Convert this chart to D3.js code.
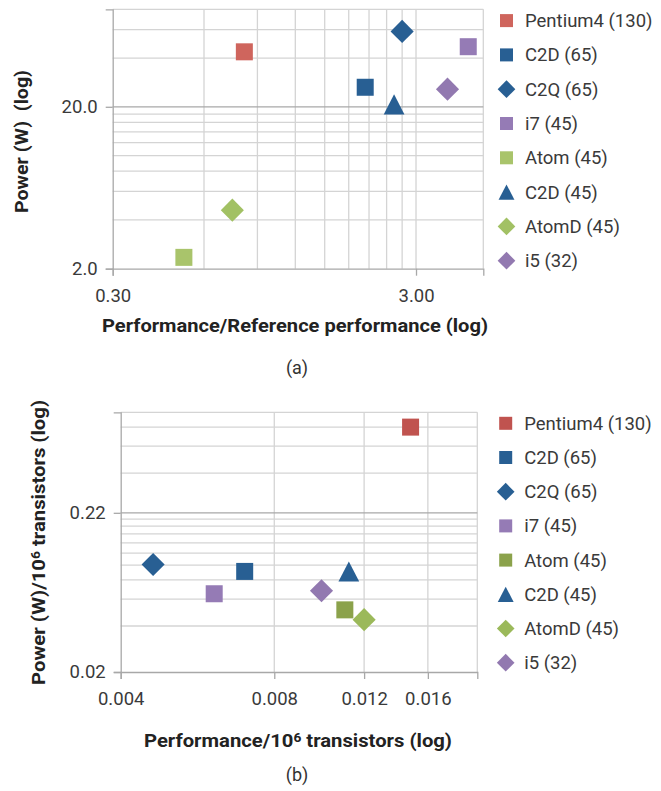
<!DOCTYPE html>
<html>
<head>
<meta charset="utf-8">
<script src="https://cdn.jsdelivr.net/npm/d3@7"></script>
<style>
  body { margin: 0; background: #fff; }
  svg { display: block; font-family: Roboto, 'Noto Sans', sans-serif; }
  .tick-label { font-size: 18.5px; fill: #3a3a3a; }
  .axis-title { font-size: 18.5px; font-weight: bold; fill: #222; white-space: pre; }
  .legend-label { font-size: 18.5px; fill: #3a3a3a; }
  .panel-label { font-size: 18px; fill: #333; }
</style>
</head>
<body>
<svg width="661" height="791"></svg>
<script>
// processors, in legend order
const NAMES = ['Pentium4 (130)', 'C2D (65)', 'C2Q (65)', 'i7 (45)', 'Atom (45)', 'C2D (45)', 'AtomD (45)', 'i5 (32)']
const SHAPES = ['square', 'square', 'diamond', 'square', 'square', 'triangle', 'diamond', 'diamond']
const COLORS_A = ['#cf655d', '#285f93', '#285f93', '#957bb5', '#a9c46b', '#285f93', '#a2c164', '#9279b0']
const COLORS_B = ['#c0534f', '#285f93', '#285f93', '#957bb5', '#8ba24b', '#285f93', '#9bb95a', '#9279b0']

// (a) power vs performance
const PERF = [0.815, 2.04, 2.70, 4.46, 0.515, 2.54, 0.744, 3.81]
const POWER = [43.7, 26.4, 58.4, 47.0, 2.35, 20.7, 4.6, 25.7]

// (b) per million transistors
const PERF_PER_MT = [0.0148, 0.0070, 0.00463, 0.0061, 0.0110, 0.0112, 0.0120, 0.0099]
const POWER_PER_MT = [0.80, 0.091, 0.101, 0.065, 0.051, 0.091, 0.044, 0.068]

// axes
const X_DOMAIN_A = [0.3, 5]
const Y_DOMAIN_A = [2, 80]
const X_TICKS_A = [0.3, 3]
const Y_TICKS_A = [2, 20]
const X_GRID_A = [0.6, 0.9, 1.2, 1.5, 1.8, 2.1, 2.4, 2.7, 3]
const Y_GRID_A = [4, 6, 8, 10, 12, 14, 16, 18, 40, 60]

const X_DOMAIN_B = [0.004, 0.02]
const Y_DOMAIN_B = [0.02, 1.0]
const X_TICKS_B = [0.004, 0.008, 0.012, 0.016]
const Y_TICKS_B = [0.02, 0.22]
const X_GRID_B = [0.008, 0.012, 0.016]
const Y_GRID_B = [0.04, 0.06, 0.08, 0.10, 0.12, 0.14, 0.16, 0.18, 0.20, 0.4, 0.6, 0.8]

const svg = d3.select('svg')

function marker (g, shape, size) {
  if (shape === 'square') {
    g.append('rect')
      .attr('x', -size / 2).attr('y', -size / 2)
      .attr('width', size).attr('height', size)
  } else if (shape === 'diamond') {
    const r = size * 0.68
    g.append('path').attr('d', `M0,${-r}L${r},0L0,${r}L${-r},0Z`)
  } else {
    const w = size * 1.22
    const h = size * 1.18
    g.append('path').attr('d', `M0,${-h / 2}L${w / 2},${h / 2}L${-w / 2},${h / 2}Z`)
  }
}

// title text; parts are [string, isSuperscript]
function title (sel, parts, length) {
  sel.attr('class', 'axis-title')
    .attr('text-anchor', 'middle')
    .attr('textLength', length)
    .attr('lengthAdjust', 'spacingAndGlyphs')
  parts.forEach(([s, sup]) => {
    const t = sel.append('tspan').text(s)
    if (sup) t.attr('font-size', '0.68em').attr('baseline-shift', '38%')
  })
}

function panel (opts) {
  const { box, xDomain, yDomain, xs, ys, colors } = opts
  const x = d3.scaleLog().domain(xDomain).range([box.left, box.right])
  const y = d3.scaleLog().domain(yDomain).range([box.bottom, box.top])
  const g = svg.append('g')

  // grid
  g.selectAll('.vgrid')
    .data(opts.xGrid.concat([xDomain[1]]))
    .enter().append('line')
    .attr('x1', d => x(d)).attr('x2', d => x(d))
    .attr('y1', box.top).attr('y2', box.bottom)
    .attr('stroke', '#d4d4d4').attr('stroke-width', 1.3)
  g.selectAll('.hgrid')
    .data(opts.yGrid.concat([yDomain[1]]))
    .enter().append('line')
    .attr('y1', d => y(d)).attr('y2', d => y(d))
    .attr('x1', box.left).attr('x2', box.right)
    .attr('stroke', '#d4d4d4').attr('stroke-width', 1.3)
  g.append('line')
    .attr('y1', y(opts.yTicks[1])).attr('y2', y(opts.yTicks[1]))
    .attr('x1', box.left).attr('x2', box.right)
    .attr('stroke', '#a8a8a8').attr('stroke-width', 1.3)

  // axes
  const yAxis = g.append('g')
    .attr('transform', `translate(${box.left},0)`)
    .call(d3.axisLeft(y).tickValues(opts.yTicks).tickSize(7).tickPadding(8)
      .tickFormat(d3.format(opts.yFormat)))
  const xAxis = g.append('g')
    .attr('transform', `translate(0,${box.bottom})`)
    .call(d3.axisBottom(x).tickValues(opts.xTicks).tickSize(7).tickPadding(13)
      .tickFormat(d3.format(opts.xFormat)))
  for (const ax of [xAxis, yAxis]) {
    ax.attr('font-family', null).attr('font-size', null)
    ax.select('.domain').attr('stroke', '#a8a8a8').attr('stroke-width', 1.3)
    ax.selectAll('.tick line').attr('stroke', '#a8a8a8').attr('stroke-width', 1.3)
    ax.selectAll('.tick text').attr('class', 'tick-label').attr('fill', null)
  }
  yAxis.selectAll('.tick line').attr('x2', -7).attr('x1', 0)
  xAxis.selectAll('.tick line').attr('y1', 0)

  // points
  const pts = g.selectAll('.pt')
    .data(NAMES.map((n, i) => ({ name: n, shape: SHAPES[i], color: colors[i], px: xs[i], py: ys[i] })))
    .enter().append('g')
    .attr('transform', d => `translate(${x(d.px)},${y(d.py)})`)
    .attr('fill', d => d.color)
  pts.each(function (d) { marker(d3.select(this), d.shape, 17) })

  // titles
  svg.append('text')
    .attr('transform', `translate(${opts.yTitlePos[0]},${opts.yTitlePos[1]}) rotate(-90)`)
    .attr('dy', '0.35em')
    .call(title, opts.yTitle, opts.yTitleLen)
  svg.append('text')
    .attr('x', opts.xTitlePos[0]).attr('y', opts.xTitlePos[1])
    .attr('dy', '0.35em')
    .call(title, opts.xTitle, opts.xTitleLen)
  svg.append('text')
    .attr('class', 'panel-label')
    .attr('text-anchor', 'middle')
    .attr('x', opts.labelPos[0]).attr('y', opts.labelPos[1])
    .attr('dy', '0.35em')
    .text(opts.label)

  // legend
  const leg = svg.append('g')
    .selectAll('g')
    .data(NAMES.map((n, i) => ({ name: n, shape: SHAPES[i], color: colors[i] })))
    .enter().append('g')
    .attr('transform', (d, i) => `translate(${opts.legend.x},${opts.legend.y + i * opts.legend.step})`)
  leg.append('g').attr('fill', d => d.color)
    .each(function (d) { marker(d3.select(this), d.shape, 13) })
  leg.append('text')
    .attr('class', 'legend-label')
    .attr('x', 18.5).attr('dy', '0.35em')
    .text(d => d.name)
}

panel({
  box: { left: 112.7, right: 483.3, top: 9.3, bottom: 268.7 },
  xDomain: X_DOMAIN_A, yDomain: Y_DOMAIN_A,
  xTicks: X_TICKS_A, yTicks: Y_TICKS_A,
  xGrid: X_GRID_A, yGrid: Y_GRID_A,
  xFormat: '.2f', yFormat: '.1f',
  xs: PERF, ys: POWER, colors: COLORS_A,
  yTitle: [['Power (W)  (log)']], yTitlePos: [22, 141.5], yTitleLen: 143,
  xTitle: [['Performance/Reference performance (log)']], xTitlePos: [295, 326], xTitleLen: 386,
  label: '(a)', labelPos: [297, 368],
  legend: { x: 506.5, y: 20.6, step: 34.3 }
})

panel({
  box: { left: 120.7, right: 477.3, top: 412.3, bottom: 672 },
  xDomain: X_DOMAIN_B, yDomain: Y_DOMAIN_B,
  xTicks: X_TICKS_B, yTicks: Y_TICKS_B,
  xGrid: X_GRID_B, yGrid: Y_GRID_B,
  xFormat: '.3f', yFormat: '.2f',
  xs: PERF_PER_MT, ys: POWER_PER_MT, colors: COLORS_B,
  yTitle: [['Power (W)/10'], ['6', true], [' transistors (log)']], yTitlePos: [38.3, 542.5], yTitleLen: 285,
  xTitle: [['Performance/10'], ['6', true], [' transistors (log)']], xTitlePos: [298, 741], xTitleLen: 308,
  label: '(b)', labelPos: [297, 775],
  legend: { x: 505.7, y: 423.3, step: 34.2 }
})
</script>
</body>
</html>
